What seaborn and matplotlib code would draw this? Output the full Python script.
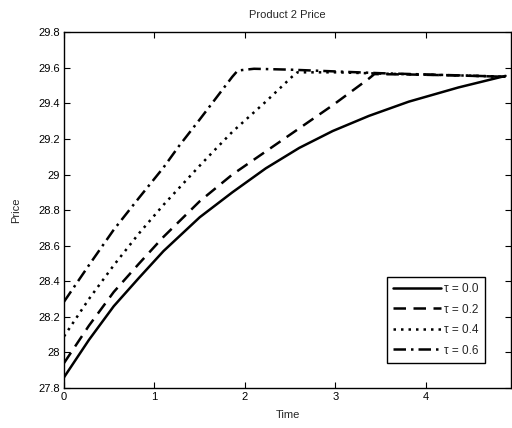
import matplotlib
matplotlib.use("Agg")
import matplotlib.pyplot as plt
import seaborn as sns
import pandas as pd

sns.set_theme(style="white")
plt.rcParams['font.family'] = ['Liberation Sans', 'DejaVu Sans']

t0 = [0, 0.275, 0.55, 0.83, 1.1, 1.5, 1.86, 2.23, 2.6, 2.97, 3.37, 3.81, 4.36, 4.76, 4.88]
p0 = [27.86, 28.07, 28.26, 28.42, 28.57, 28.76, 28.90, 29.035, 29.15, 29.245, 29.33, 29.41, 29.49, 29.54, 29.555]

t2 = [0, 0.275, 0.55, 0.83, 1.1, 1.5, 1.86, 2.23, 2.6, 2.97, 3.37, 3.43, 3.8, 4.3, 4.88]
p2 = [27.94, 28.15, 28.34, 28.50, 28.65, 28.85, 29.00, 29.13, 29.26, 29.39, 29.54, 29.565, 29.563, 29.558, 29.55]

t4 = [0, 0.275, 0.55, 0.83, 1.1, 1.5, 1.65, 1.86, 2.23, 2.52, 2.58, 3.0, 3.5, 4.0, 4.5, 4.88]
p4 = [28.09, 28.30, 28.49, 28.67, 28.83, 29.05, 29.13, 29.24, 29.41, 29.55, 29.575, 29.575, 29.568, 29.562, 29.556, 29.55]

t6 = [0, 0.275, 0.55, 0.83, 1.1, 1.27, 1.5, 1.68, 1.86, 1.92, 2.1, 2.5, 3.0, 3.5, 4.0, 4.5, 4.88]
p6 = [28.285, 28.49, 28.69, 28.87, 29.04, 29.16, 29.31, 29.43, 29.55, 29.585, 29.595, 29.59, 29.58, 29.57, 29.563, 29.556, 29.55]

labels = ["τ = 0.0", "τ = 0.2", "τ = 0.4", "τ = 0.6"]
x_ticks = [0, 1, 2, 3, 4]
y_ticks = [27.8, 28, 28.2, 28.4, 28.6, 28.8, 29, 29.2, 29.4, 29.6, 29.8]
y_ticklabels = ["27.8", "28", "28.2", "28.4", "28.6", "28.8", "29", "29.2", "29.4", "29.6", "29.8"]

series = [(t0, p0), (t2, p2), (t4, p4), (t6, p6)]
styles = ["-", (0, (5, 3)), (0, (1, 2)), (0, (5, 2, 1, 2))]

fig = plt.figure(figsize=(5.12, 4.28), dpi=100)
ax = fig.add_axes([0.125, 0.0935, 0.873, 0.831])

for (tt, pp), lab, ls in zip(series, labels, styles):
    df = pd.DataFrame({"Time": tt, "Price": pp})
    sns.lineplot(data=df, x="Time", y="Price", ax=ax, color="black",
                 linewidth=1.8, linestyle=ls, label=lab)

ax.set_xlim(0, 4.94)
ax.set_ylim(27.8, 29.8)
ax.set_xticks(x_ticks)
ax.set_xticklabels([str(v) for v in x_ticks])
ax.set_yticks(y_ticks)
ax.set_yticklabels(y_ticklabels)
ax.tick_params(direction="in", length=4, width=0.8, labelsize=8, colors="black",
               top=True, right=True, bottom=True, left=True, pad=3)
for s in ax.spines.values():
    s.set_color("black")
    s.set_linewidth(1.0)
ax.set_xlabel("Time", fontsize=8, labelpad=6)
ax.set_ylabel("Price", fontsize=8, labelpad=12)
ax.set_title("Product 2 Price", fontsize=8, pad=10)

leg = ax.legend(loc="lower right", bbox_to_anchor=(0.942, 0.07), fontsize=8.5,
                handlelength=4.0, handletextpad=0.3, fancybox=False,
                framealpha=1, edgecolor="black", borderpad=0.55, labelspacing=0.72,
                borderaxespad=0)
leg.get_frame().set_linewidth(1.0)

fig.savefig("out.png", dpi=100)
